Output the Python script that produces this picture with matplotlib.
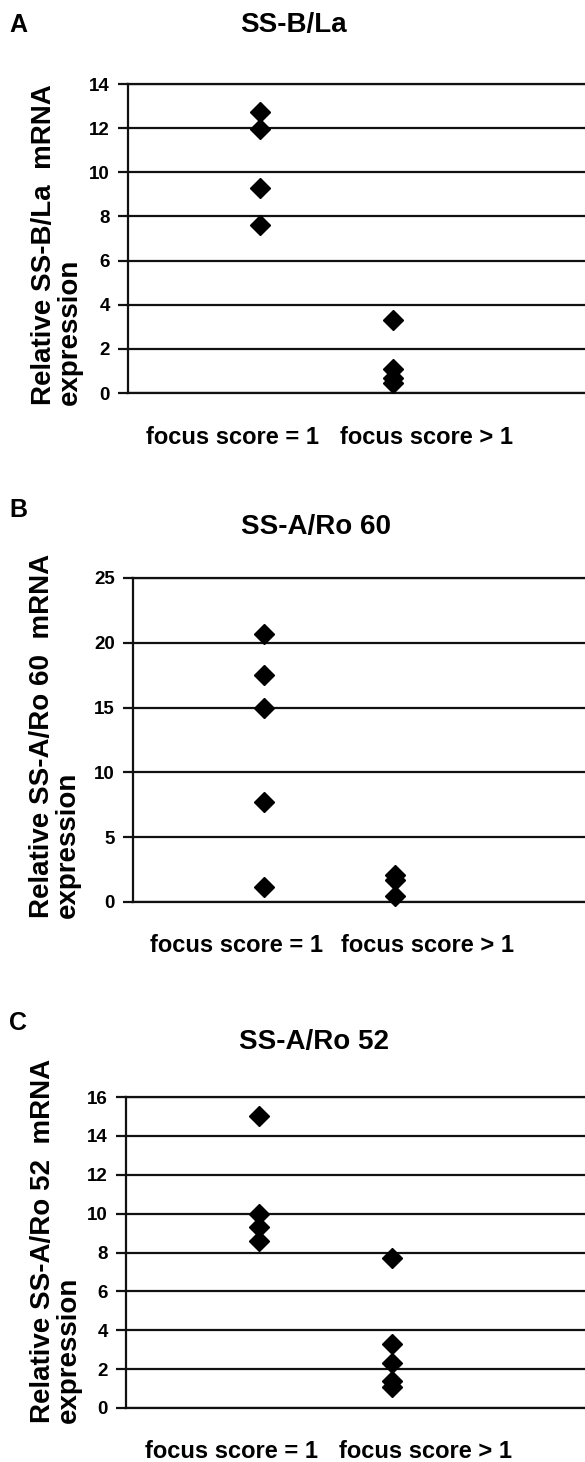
import matplotlib
matplotlib.use("Agg")
import matplotlib.pyplot as plt

W, H = 585, 1462
DPI = 100

# data
categories = ["focus score = 1", "focus score > 1"]
titles = ["SS-B/La", "SS-A/Ro 60", "SS-A/Ro 52"]
letters = ["A", "B", "C"]
ylabels = ["Relative SS-B/La  mRNA\nexpression",
           "Relative SS-A/Ro 60  mRNA\nexpression",
           "Relative SS-A/Ro 52  mRNA\nexpression"]
ssb_low = [12.75, 11.95, 9.3, 7.6]
ssb_high = [3.3, 1.1, 0.7, 0.45]
ro60_low = [20.7, 17.5, 15.0, 7.7, 1.15]
ro60_high = [2.1, 1.7, 0.5]
ro52_low = [15.0, 10.0, 9.3, 8.6]
ro52_high = [7.7, 3.3, 2.3, 1.4, 1.1]
yticks = [list(range(0, 15, 2)), list(range(0, 26, 5)), list(range(0, 17, 2))]

series = [(ssb_low, ssb_high), (ro60_low, ro60_high), (ro52_low, ro52_high)]

# layout in pixels: (left, top, bottom) of each plot area, right edge = image edge
boxes = [(128, 84, 393), (133, 578, 902), (126, 1097, 1408)]
title_pos = [(293, 25), (316, 527), (314, 1042)]
letter_y = [25, 510, 1023]
ylab_pos = [(57, 245), (55, 736), (56, 1241)]

BOLD = dict(family=["Liberation Sans", "DejaVu Sans"], weight="bold")
NARROW = ["Liberation Sans Narrow", "Liberation Sans", "DejaVu Sans"]

fig = plt.figure(figsize=(W / DPI, H / DPI), dpi=DPI)

for i, (low, high) in enumerate(series):
    l, t, b = boxes[i]
    ax = fig.add_axes([l / W, 1 - b / H, (W - l) / W, (b - t) / H])
    ax.plot([1] * len(low), low, "D", color="black", ms=10.5, clip_on=False, zorder=5)
    ax.plot([2] * len(high), high, "D", color="black", ms=10.5, clip_on=False, zorder=5)
    ax.set_xlim(0, 3.45)
    ax.set_ylim(yticks[i][0], yticks[i][-1])
    ax.set_yticks(yticks[i])
    ax.set_yticklabels([str(v) for v in yticks[i]], family=NARROW, fontsize=13.5, weight="bold")
    ax.set_xticks([])
    ax.yaxis.grid(True, color="#111111", lw=1.6)
    ax.tick_params(axis="y", length=7, width=1.6, color="#111111", pad=6)
    for s in ("left", "bottom", "top"):
        ax.spines[s].set_color("#111111")
        ax.spines[s].set_linewidth(1.6)
    ax.spines["right"].set_visible(False)
    ax.set_axisbelow(True)

    for x, lab in zip([0.79, 2.25], categories):
        ax.annotate(lab, xy=(x, 0), xycoords=("data", "axes fraction"),
                    xytext=(0, -44 * 72 / DPI), textcoords="offset points",
                    ha="center", va="center", fontsize=17, **BOLD)

    tx, ty = title_pos[i]
    fig.text(tx / W, 1 - ty / H, titles[i], ha="center", va="center", fontsize=20, **BOLD)
    fig.text(18 / W, 1 - letter_y[i] / H, letters[i], ha="center", va="center", fontsize=18, **BOLD)
    yx, yy = ylab_pos[i]
    fig.text(yx / W, 1 - yy / H, ylabels[i], rotation=90, ha="center", va="center",
             multialignment="left", fontsize=20, linespacing=1.0, **BOLD)

fig.savefig("out.png", dpi=DPI)
